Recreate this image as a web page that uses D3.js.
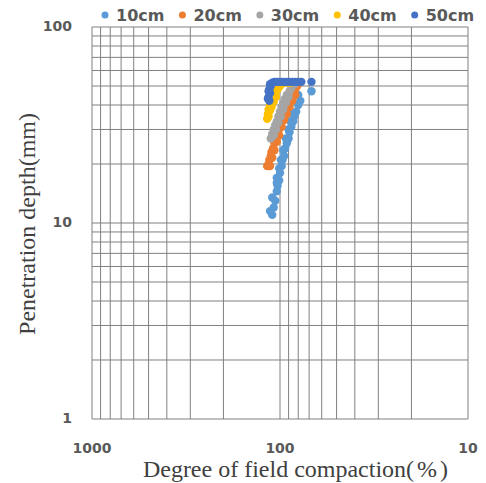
<!DOCTYPE html>
<html>
<head>
<meta charset="utf-8">
<script src="https://cdn.jsdelivr.net/npm/d3@7"></script>
<style>
  body { margin: 0; background: #fff; }
</style>
</head>
<body>
<div id="chart"></div>
<script>
// series: [degree of field compaction (%), penetration depth (mm)]
const seriesNames = ["10cm", "20cm", "30cm", "40cm", "50cm"];
const seriesColors = ["#5B9BD5", "#ED7D31", "#A5A5A5", "#FFC000", "#4472C4"];

const data10 = [[110, 11], [113, 11.5], [108, 12], [106, 13], [110, 13.5], [104, 14.5],
  [103, 15.5], [101, 16.5], [104, 17], [100, 18], [98, 19.5], [97, 21], [95, 22],
  [94, 24], [92, 25.5], [90, 27], [89, 29], [87, 31], [85, 33], [84, 35], [82, 37],
  [80, 40], [78, 42], [80, 45], [68, 47],
  [104, 16], [101, 19], [99, 21], [96, 23.5], [93, 27], [90, 30], [88, 33], [85, 36]];
const data20 = [[117, 19.5], [115, 20], [114, 21], [112, 22], [111, 23], [109, 24],
  [107, 25.5], [105, 27], [104, 28], [102, 29.5], [100, 31], [99, 33], [97, 34.5],
  [95, 36], [93, 38], [91, 40], [89, 42], [87, 44], [85, 46], [83, 48], [81, 50], [79, 52],
  [113, 19.5], [110, 21.5], [107, 23.5], [104, 26], [101, 28], [98, 31], [95, 33.5],
  [92, 36], [89, 39], [86, 42], [83, 45]];
const data30 = [[112, 27], [110, 28.5], [108, 30], [106, 31.5], [104, 33], [102, 35],
  [100, 37], [98, 39], [96, 41], [94, 43], [92, 45], [89, 47], [87, 49], [84, 51], [82, 52],
  [108, 28], [105, 30], [102, 32.5], [99, 35], [96, 38], [93, 41], [90, 44]];
const data40 = [[117, 34], [116, 36], [115, 38], [113, 40], [111, 42], [109, 44],
  [106, 46], [103, 48], [100, 50], [96, 52], [92, 52], [88, 52],
  [115, 35], [113, 37.5], [111, 39], [108, 41.5], [105, 44]];
const data50 = [[114, 42], [115, 44], [113, 46], [114, 48], [112, 50], [110, 52],
  [107, 52.5], [104, 52.5], [101, 52.5], [98, 52.5], [95, 52.5], [92, 52.5],
  [89, 52.5], [86, 52.5], [83, 52.5], [80, 52.5], [77, 52.5], [68, 52.5],
  [116, 43], [115, 47], [113, 51]];

const xTickLabels = [1000, 100, 10];
const yTickLabels = [100, 10, 1];

const allSeries = [data10, data20, data30, data40, data50];

const width = 486, height = 483;
const margin = {top: 27, right: 18, bottom: 64, left: 92};

const svg = d3.select("#chart")
  .append("svg")
  .attr("width", width)
  .attr("height", height);

// both axes are log, x runs backwards (1000 on the left)
const xScale = d3.scaleLog()
  .domain([1000, 10])
  .range([margin.left, width - margin.right]);

const yScale = d3.scaleLog()
  .domain([1, 100])
  .range([height - margin.bottom, margin.top]);

// gridlines at every 1..9 step in each decade
const xGrid = xScale.ticks();
const yGrid = yScale.ticks();

svg.append("g")
  .selectAll("line")
  .data(xGrid)
  .join("line")
  .attr("x1", d => xScale(d)).attr("x2", d => xScale(d))
  .attr("y1", margin.top).attr("y2", height - margin.bottom)
  .attr("stroke", "#808080")
  .attr("stroke-width", 1);

svg.append("g")
  .selectAll("line")
  .data(yGrid)
  .join("line")
  .attr("y1", d => yScale(d)).attr("y2", d => yScale(d))
  .attr("x1", margin.left).attr("x2", width - margin.right)
  .attr("stroke", "#808080")
  .attr("stroke-width", 1);

// tick labels
svg.append("g")
  .selectAll("text")
  .data(xTickLabels)
  .join("text")
  .attr("x", d => xScale(d))
  .attr("y", 453)
  .attr("text-anchor", "middle")
  .attr("font-family", "DejaVu Sans")
  .attr("font-weight", "bold")
  .attr("font-size", "14px")
  .attr("fill", "#595959")
  .text(d => d);

svg.append("g")
  .selectAll("text")
  .data(yTickLabels)
  .join("text")
  .attr("x", 72)
  .attr("y", d => yScale(d) + 4)
  .attr("text-anchor", "end")
  .attr("font-family", "DejaVu Sans")
  .attr("font-weight", "bold")
  .attr("font-size", "14px")
  .attr("fill", "#595959")
  .text(d => d);

// points, later series on top
allSeries.forEach((series, i) => {
  svg.append("g")
    .selectAll("circle")
    .data(series)
    .join("circle")
    .attr("cx", d => xScale(d[0]))
    .attr("cy", d => yScale(d[1]))
    .attr("r", 4.2)
    .attr("fill", seriesColors[i]);
});

// legend across the top
const legend = svg.append("g");
let lx = 105;
seriesNames.forEach((name, i) => {
  legend.append("circle")
    .attr("cx", lx).attr("cy", 15).attr("r", 3.5)
    .attr("fill", seriesColors[i]);
  const t = legend.append("text")
    .attr("x", lx + 11)
    .attr("y", 21)
    .attr("font-family", "DejaVu Sans")
    .attr("font-weight", "bold")
    .attr("font-size", "16px")
    .attr("fill", "#595959")
    .text(name);
  lx += 11 + t.node().getComputedTextLength() + 18;
});

// axis titles
const xTitle = svg.append("text")
  .attr("x", 297)
  .attr("y", 477)
  .attr("text-anchor", "middle")
  .attr("font-family", "Liberation Serif")
  .attr("font-size", "24px")
  .attr("fill", "#404040")
  .text("Degree of field compaction");
xTitle.append("tspan")
  .attr("letter-spacing", "3px")
  .text("(%)");

svg.append("text")
  .attr("transform", "translate(35,224) rotate(-90)")
  .attr("text-anchor", "middle")
  .attr("font-family", "Liberation Serif")
  .attr("font-size", "24px")
  .attr("fill", "#404040")
  .text("Penetration depth(mm)");
</script>
</body>
</html>
